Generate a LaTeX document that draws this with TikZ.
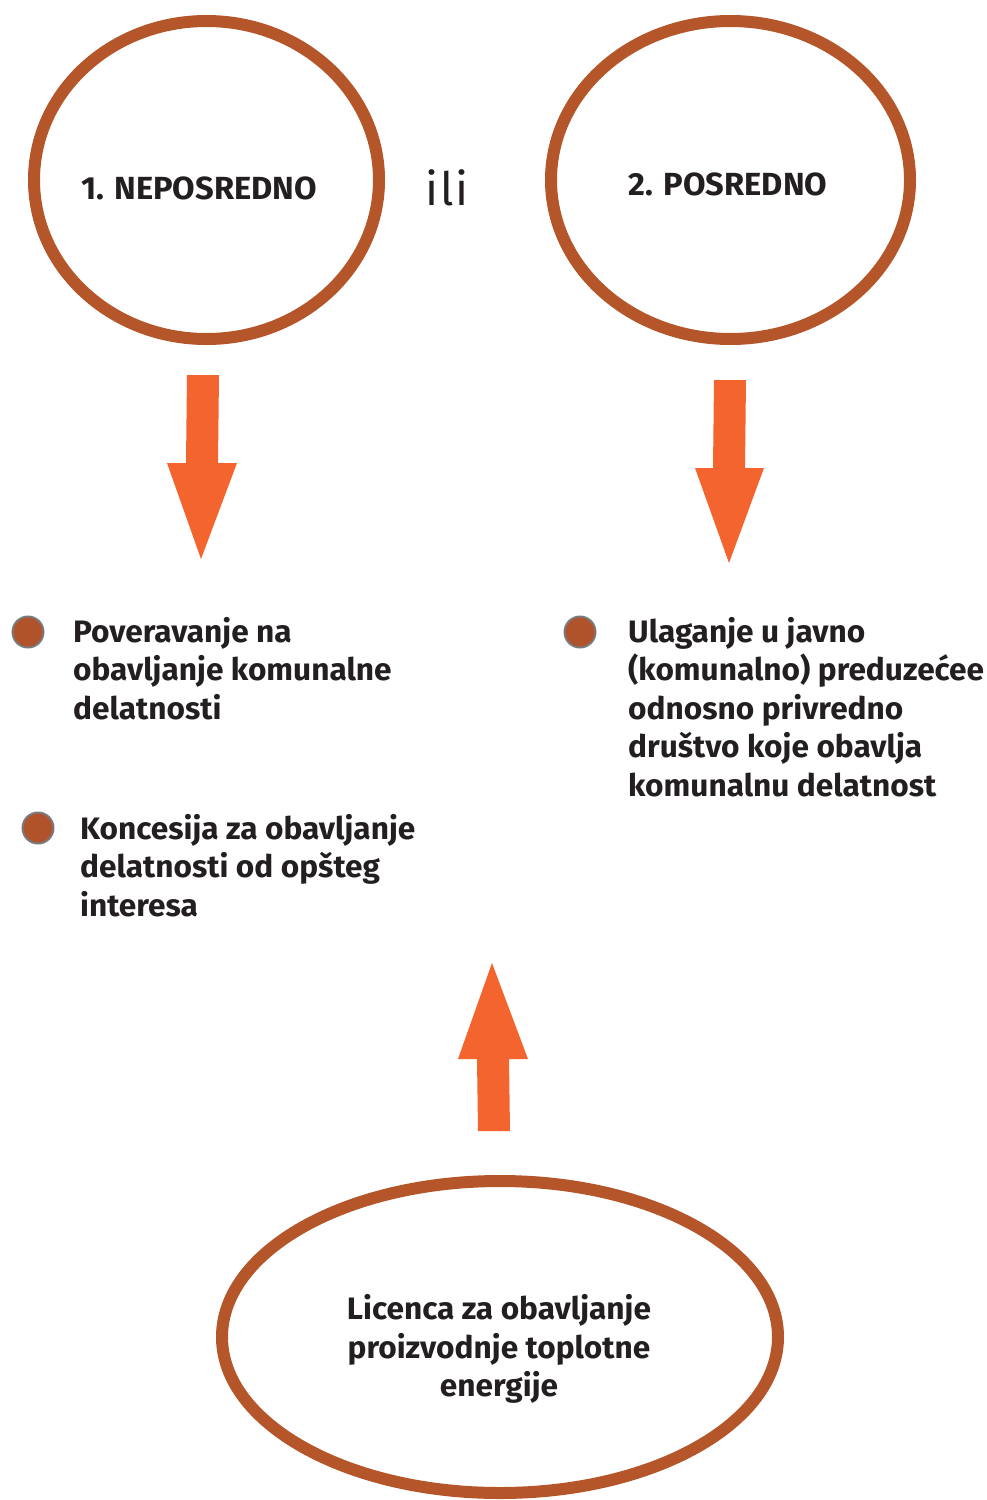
\documentclass[tikz,border=0pt]{standalone}
\usepackage{fontspec}
\setmainfont{Fira Sans}[FakeStretch=1.02]
\newfontfamily\ilifont{Fira Sans}
\usetikzlibrary{shapes.geometric}
\definecolor{ringc}{HTML}{B4552A}
\definecolor{arrc}{HTML}{F3642E}
\definecolor{txtc}{HTML}{231F20}
\definecolor{dotc}{HTML}{B0522A}
\definecolor{dotb}{HTML}{7A7A7A}
\tikzset{
  ring/.style={draw=ringc,line width=12pt,ellipse,inner sep=0pt},
  bigarrow/.style={fill=arrc,draw=none},
  btxt/.style={font=\fontsize{31}{38.5}\selectfont\bfseries,text=txtc,align=left,anchor=north west,inner sep=0pt},
  ttxt/.style={font=\fontsize{31}{38.5}\selectfont\bfseries,text=txtc,inner sep=0pt},
  dot/.style={circle,fill=dotc,draw=dotb,line width=2pt,minimum size=31pt,inner sep=0pt}
}
\begin{document}
\begin{tikzpicture}[x=1pt,y=-1pt]
\useasboundingbox (0,0) rectangle (986,1500);
% rings
\node[ring,minimum width=345pt,minimum height=318pt] (r1) at (206.5,180) {};
\node[ring,minimum width=359pt,minimum height=318pt] (r2) at (730.5,180) {};
\node[ring,minimum width=556pt,minimum height=312pt] (r3) at (500,1337) {};
\node[ttxt,font=\fontsize{32}{38.5}\selectfont\bfseries] (t1) at (199,188) {1. NEPOSREDNO};
\node[ttxt,font=\fontsize{32}{38.5}\selectfont\bfseries] (t2) at (728,184) {2. POSREDNO};
\node[font=\fontsize{46}{50}\ilifont\addfontfeatures{LetterSpace=4}\selectfont,text=txtc,inner sep=0pt] (ili) at (447,188) {ili};
\node[ttxt,align=center] (t3) at (499,1349) {Licenca za obavljanje\\proizvodnje toplotne\\energije};
% arrows
\fill[bigarrow] (187,375) -- (219,375) -- (218,463) -- (237,463) -- (201,559) -- (167,463) -- (186,463) -- cycle;
\fill[bigarrow] (714,380) -- (746,380) -- (745,468) -- (764,468) -- (729,563) -- (695,468) -- (713,468) -- cycle;
\fill[bigarrow] (478,1131) -- (510,1131) -- (509,1059) -- (528,1059) -- (492,963) -- (458,1059) -- (477,1059) -- cycle;
% bullets
\node[dot] (d1) at (28,632) {};
\node[dot] (d2) at (38,828) {};
\node[dot] (d3) at (580,632) {};
\node[btxt] (b1) at (73,617) {Poveravanje na\\obavljanje komunalne\\delatnosti};
\node[btxt] (b2) at (80,814) {Koncesija za obavljanje\\delatnosti od opšteg\\interesa};
\node[btxt] (b3) at (628,617) {Ulaganje u javno\\(komunalno) preduzećee\\odnosno privredno\\društvo koje obavlja\\komunalnu delatnost};
\end{tikzpicture}
\end{document}
